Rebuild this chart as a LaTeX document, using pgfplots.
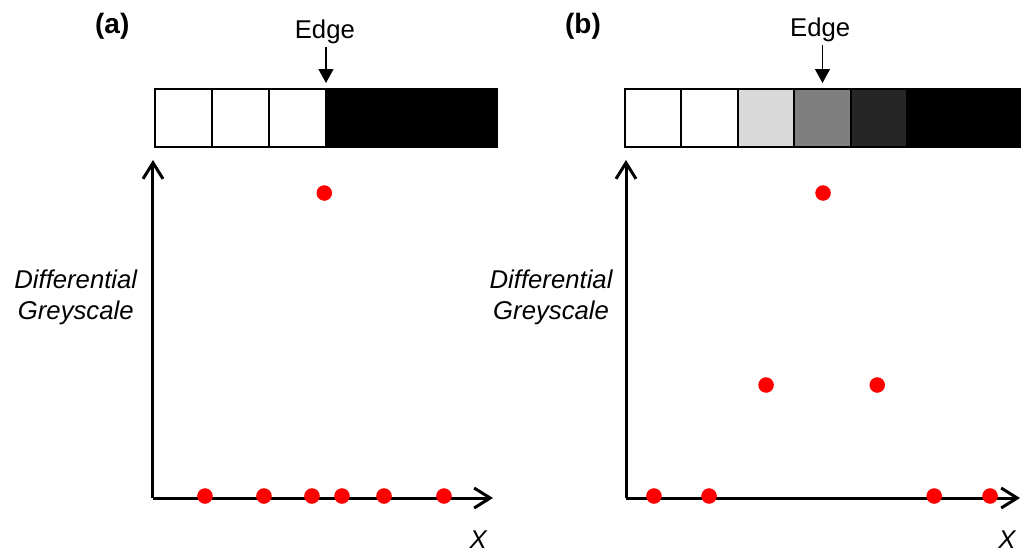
\documentclass[border=0pt]{standalone}
\usepackage{pgfplots}
\pgfplotsset{compat=1.18}
\usetikzlibrary{arrows.meta}
\usepackage{fontspec}
\setmainfont{Liberation Sans}

\definecolor{lightcell}{HTML}{D9D9D9}
\definecolor{midcell}{HTML}{7F7F7F}
\definecolor{darkcell}{HTML}{262626}

% 1 px of the reference = 0.5pt
\pgfplotsset{
  sketch/.style={
    scale only axis, height=169pt, ymin=0, ymax=338,
    axis lines=left, xtick=\empty, ytick=\empty,
    every outer x axis line/.append style={line width=1.5pt, -{Straight Barb[length=8pt,width=10pt]}},
    every outer y axis line/.append style={line width=1.5pt, -{Straight Barb[length=8pt,width=10pt]}},
    clip=false, anchor=south west,
  },
  dots/.style={only marks, mark=*, mark size=3.67pt, color=red, mark options={draw=none, fill=red}},
  cell/.style={draw=black, line width=1pt, mark=none},
}
\tikzset{edgearrow/.style={-{Triangle[length=7pt,width=7.5pt]}, line width=0.6pt}}

\begin{document}
\fontsize{12.85pt}{15.5pt}\selectfont
\begin{tikzpicture}
\useasboundingbox (0,0) rectangle (515pt,-276.5pt);

% panel (a): sharp edge
\begin{axis}[sketch, at={(76.5pt,-249pt)}, width=170pt, xmin=-0.035, xmax=5.93]
  \addplot[cell, fill=white] coordinates {(0,351) (1,351) (1,409) (0,409)} -- cycle;
  \addplot[cell, fill=white] coordinates {(1,351) (2,351) (2,409) (1,409)} -- cycle;
  \addplot[cell, fill=white] coordinates {(2,351) (3,351) (3,409) (2,409)} -- cycle;
  \addplot[cell, fill=black] coordinates {(3,351) (6,351) (6,409) (3,409)} -- cycle;
  \draw[edgearrow] (axis cs:3,451) -- (axis cs:3,415);
  \node[anchor=base] at (axis cs:2.98,460) {Edge};
  \node[font=\bfseries\fontsize{14pt}{16pt}\selectfont] at (axis cs:-0.75,472) {(a)};
  \node[align=center, font=\itshape] at (axis cs:-1.39,201) {Differential\\Greyscale};
  \node[font=\itshape] at (axis cs:5.67,-42) {X};
  \addplot[dots] coordinates {
    (0.877,2) (1.912,2) (2.754,2) (3.281,2) (4.018,2) (5.07,2) (2.97,305)
  };
\end{axis}

% panel (b): blurred edge
\begin{axis}[sketch, at={(313pt,-249pt)}, width=197pt, xmin=0.018, xmax=7.0]
  \addplot[cell, fill=white] coordinates {(0,351) (1,351) (1,409) (0,409)} -- cycle;
  \addplot[cell, fill=white] coordinates {(1,351) (2,351) (2,409) (1,409)} -- cycle;
  \addplot[cell, fill=lightcell] coordinates {(2,351) (3,351) (3,409) (2,409)} -- cycle;
  \addplot[cell, fill=midcell] coordinates {(3,351) (4,351) (4,409) (3,409)} -- cycle;
  \addplot[cell, fill=darkcell] coordinates {(4,351) (5,351) (5,409) (4,409)} -- cycle;
  \addplot[cell, fill=black] coordinates {(5,351) (7,351) (7,409) (5,409)} -- cycle;
  \draw[edgearrow] (axis cs:3.5,453) -- (axis cs:3.5,415);
  \node[anchor=base] at (axis cs:3.46,462) {Edge};
  \node[font=\bfseries\fontsize{14pt}{16pt}\selectfont] at (axis cs:-0.745,472) {(b)};
  \node[align=center, font=\itshape] at (axis cs:-1.31,201) {Differential\\Greyscale};
  \node[font=\itshape] at (axis cs:6.77,-42) {X};
  \addplot[dots] coordinates {
    (0.514,2) (1.49,2) (2.5,113) (3.51,305) (4.47,113) (5.48,2) (6.47,2)
  };
\end{axis}
\end{tikzpicture}
\end{document}
